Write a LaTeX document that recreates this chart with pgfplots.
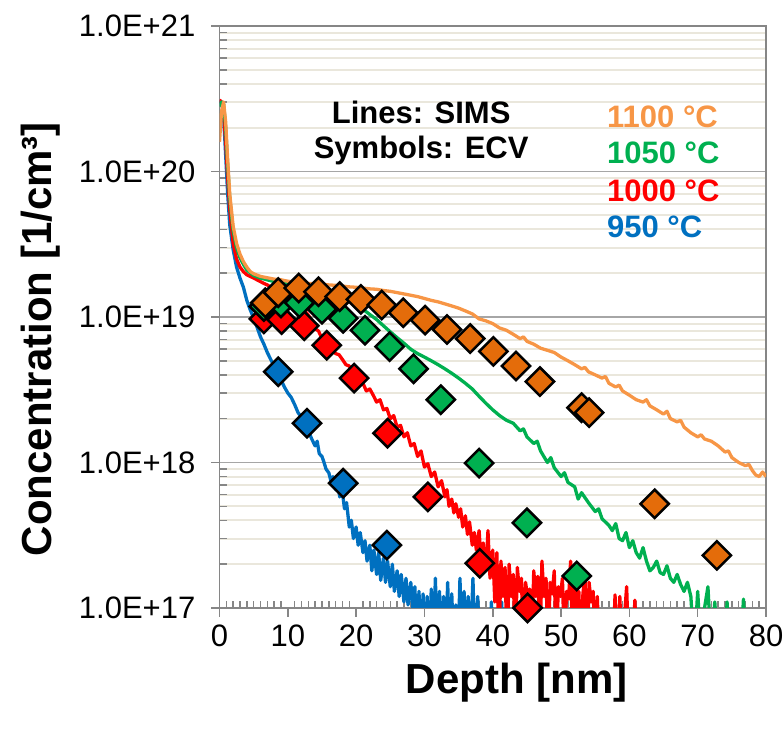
\documentclass[border=0pt]{standalone}
\usepackage{fontspec}
\setmainfont{Liberation Sans}
\usepackage{pgfplots}
\pgfplotsset{compat=1.18}
\definecolor{cOrL}{HTML}{F79646}
\definecolor{cOrM}{HTML}{E46C0A}
\definecolor{cGr}{HTML}{00B050}
\definecolor{cRd}{HTML}{FF0000}
\definecolor{cBl}{HTML}{0070C0}
\definecolor{gridmaj}{HTML}{A6A6A6}
\definecolor{gridmin}{HTML}{EAE7DC}
\definecolor{axgray}{HTML}{868686}
\begin{document}
\begin{tikzpicture}
\useasboundingbox (0,0) rectangle (783pt,738pt);
\begin{axis}[
  at={(219.5pt,130pt)}, anchor=south west,
  width=546.5pt, height=582pt, scale only axis,
  xmin=0, xmax=80, ymin=1e17, ymax=1e21, ymode=log,
  xtick={0,10,...,80}, minor x tick num=9,
  ytick={1e17,1e18,1e19,1e20,1e21},
  yticklabels={1.0E+17,1.0E+18,1.0E+19,1.0E+20,1.0E+21},
  minor ytick={2e17,3e17,4e17,5e17,6e17,7e17,8e17,9e17,
               2e18,3e18,4e18,5e18,6e18,7e18,8e18,9e18,
               2e19,3e19,4e19,5e19,6e19,7e19,8e19,9e19,
               2e20,3e20,4e20,5e20,6e20,7e20,8e20,9e20},
  ymajorgrids, yminorgrids,
  major grid style={gridmaj, line width=1.5pt},
  minor grid style={gridmin, line width=2pt},
  axis line style={axgray, line width=1.5pt},
  tick style={axgray, line width=1.5pt},
  tick align=inside,
  major tick length=-9pt,
  minor tick length=7pt,
  xtick pos=bottom, ytick pos=left,
  /pgf/number format/assume math mode=true,
  tick label style={font=\fontsize{31}{37}\selectfont},
  xticklabel style={anchor=north, inner sep=0pt, yshift=-17pt},
  yticklabel style={anchor=east, inner sep=0pt, xshift=-24pt},
  xlabel={Depth [nm]},
  xlabel style={font=\fontsize{42}{50}\selectfont\bfseries, at={(axis description cs:0.544,-0.147)}, anchor=base},
  ylabel={Concentration [1/cm³]},
  ylabel style={font=\fontsize{42}{50}\selectfont\bfseries, at={(axis description cs:-0.3065,0.462)}, anchor=base},
  clip=true,
]
% ---- SIMS lines ----
\addplot[cBl, line width=3.3pt, line join=round] coordinates {
(0,3.0e20)(0.3,3.0e20)(0.6,2.4e20)(0.9,1.3e20)(1.2,7e19)(1.5,4.3e19)(2.0,2.9e19)(2.5,2.2e19)(3.0,1.85e19)(3.5,1.6e19)
(4,1.3e19)(4.5,1.12e19)(5,9.8e18)(5.5,8.5e18)(6,7.3e18)(6.5,6.5e18)(7,5.7e18)(7.5,5.1e18)(8,4.6e18)(8.5,4.1e18)
(9,3.7e18)(9.5,3.3e18)(10,3.0e18)(10.5,2.8e18)(11,2.5e18)(11.5,2.2e18)(12,2.05e18)(12.5,1.8e18)(13,1.65e18)(13.5,1.45e18)
(14,1.3e18)(14.3,1.4e18)(14.6,1.15e18)(15,1.1e18)(15.3,1.0e18)(15.6,9e17)(16,8.5e17)(16.3,7.5e17)(16.6,8e17)(17,6.5e17)
(17.3,7.2e17)(17.6,5.8e17)(18,6.2e17)(18.3,4.8e17)(18.6,5.3e17)(19,3.6e17)(19.3,4.0e17)(19.6,3.0e17)(20,3.6e17)(20.3,2.7e17)
(20.6,3.3e17)(21,2.4e17)(21.3,2.9e17)(21.6,2.1e17)(22,2.7e17)(22.3,1.8e17)(22.6,2.5e17)(23,1.7e17)(23.3,2.4e17)(23.6,1.55e17)
(24,2.2e17)(24.3,1.5e17)(24.6,2.1e17)(25,1.4e17)(25.3,2.0e17)(25.6,1.3e17)(26,1.8e17)(26.3,1.2e17)(26.6,1.7e17)(27,1.1e17)
(27.3,1.6e17)(27.6,1.05e17)(28,1.5e17)(28.3,1.0e17)(28.6,1.4e17)(28.9,5e16)(29.2,1.3e17)(29.5,5e16)(29.8,1.25e17)(30.1,5e16)
(30.4,1.2e17)(30.7,5e16)(31,1.35e17)(31.3,5e16)(31.6,1.6e17)(31.9,5e16)(32.2,1.3e17)(32.5,5e16)(32.8,1.2e17)(33.1,5e16)
(33.4,1.5e17)(33.7,5e16)(34,1.25e17)(34.3,5e16)(34.6,1.05e17)(34.9,5e16)(35.2,1.6e17)(35.5,5e16)(35.8,1.3e17)(36.1,5e16)
(36.4,1.2e17)(36.7,5e16)(37.1,1.6e17)(37.4,5e16)(37.8,1.2e17)(38.1,5e16)(39.5,5e16)(39.8,1.1e17)(40.1,5e16)(41,5e16)
(41.3,1.1e17)(41.6,5e16)
};
\addplot[cRd, line width=3.3pt, line join=round] coordinates {
(0,3.1e20)(0.3,3.0e20)(0.6,2.6e20)(0.9,1.6e20)(1.2,9e19)(1.5,5.5e19)(2.0,3.2e19)(2.5,2.5e19)(3.0,2.2e19)(3.5,2.05e19)
(4,1.95e19)(4.5,1.9e19)(5,1.85e19)(5.5,1.8e19)(6,1.75e19)(6.5,1.7e19)(7,1.66e19)(8,1.55e19)(9,1.48e19)(10,1.4e19)
(11,1.3e19)(11.5,1.25e19)(12,1.18e19)(12.5,1.1e19)(13,1.03e19)(13.5,9.5e18)(14,8.3e18)(14.5,8.0e18)(15,7.1e18)(15.5,6.9e18)
(16,6.3e18)(16.5,6.0e18)(17,5.6e18)(17.5,5.5e18)(18,5.1e18)(18.5,4.7e18)(19,4.6e18)(19.5,4.1e18)(20,3.9e18)(20.5,3.6e18)
(21,3.5e18)(21.5,3.1e18)(22,3.2e18)(22.5,2.9e18)(23,2.6e18)(23.5,2.7e18)(24,2.3e18)(24.5,2.35e18)(25,2.0e18)(25.5,2.1e18)
(26,1.75e18)(26.5,1.8e18)(27,1.5e18)(27.5,1.6e18)(28,1.3e18)(28.5,1.35e18)(29,1.1e18)(29.5,1.2e18)(30,9.3e17)(30.5,9.8e17)
(31,8.0e17)(31.5,8.6e17)(32,6.8e17)(32.5,7.5e17)(33,5.8e17)(33.3,6.5e17)(33.6,5.0e17)(34,5.6e17)(34.3,4.5e17)(34.6,5.2e17)
(35,4.2e17)(35.3,4.8e17)(35.6,3.6e17)(36,4.3e17)(36.3,3.2e17)(36.6,3.9e17)(37,2.7e17)(37.3,3.3e17)(37.6,2.5e17)(38,3.4e17)
(38.3,2.1e17)(38.6,2.8e17)(39,1.8e17)(39.3,3.4e17)(39.6,1.6e17)(40,2.5e17)(40.3,1.1e17)(40.6,2.4e17)(40.9,5e16)(41.2,2.1e17)
(41.5,1.2e17)(41.8,1.9e17)(42.1,5e16)(42.4,2.0e17)(42.7,1.2e17)(43,1.7e17)(43.3,5e16)(43.6,1.9e17)(43.9,1.3e17)(44.2,1.6e17)
(44.5,5e16)(44.8,1.5e17)(45.1,1.2e17)(45.4,1.35e17)(45.7,5e16)(46,1.8e17)(46.3,1.2e17)(46.6,1.65e17)(46.9,5e16)(47.2,2.1e17)
(47.5,1.2e17)(47.8,1.6e17)(48.1,5e16)(48.4,1.5e17)(48.7,1.25e17)(49,1.8e17)(49.3,5e16)(49.6,1.4e17)(49.9,1.2e17)(50.2,1.6e17)
(50.5,5e16)(50.8,1.3e17)(51.1,1.15e17)(51.4,2.1e17)(51.7,5e16)(52,1.4e17)(52.3,1.0e17)(52.6,1.3e17)(52.9,5e16)(53.2,1.25e17)
(53.5,1.7e17)(53.8,5e16)(54.1,1.5e17)(54.4,1.1e17)(54.7,1.3e17)(55,5e16)(55.3,1.2e17)(55.6,5e16)(57.6,5e16)(57.9,1.23e17)
(58.2,5e16)(58.6,1.2e17)(58.9,5e16)(59.6,1.4e17)(59.9,5e16)(60.5,5e16)(60.8,1.13e17)(61.1,5e16)
};
\addplot[cGr, line width=3.3pt, line join=round] coordinates {
(0,2.8e20)(0.3,3.0e20)(0.6,2.9e20)(0.9,2.0e20)(1.2,1.1e20)(1.5,6.5e19)(2.0,3.9e19)(2.5,3.0e19)(3,2.55e19)(3.5,2.3e19)
(4,2.1e19)(5,1.93e19)(6,1.85e19)(7,1.8e19)(8,1.75e19)(9,1.72e19)(10,1.7e19)(11,1.68e19)(12,1.65e19)(13,1.62e19)
(14,1.6e19)(15,1.57e19)(16,1.53e19)(17,1.48e19)(18,1.4e19)(19,1.32e19)(20,1.23e19)(21,1.13e19)(22,1.04e19)(23,9.6e18)
(24,8.7e18)(25,7.9e18)(26,7.2e18)(27,6.6e18)(28,6.0e18)(29,5.6e18)(30,5.3e18)(31,5.0e18)(32,4.7e18)(33,4.4e18)
(34,4.1e18)(35,3.8e18)(36,3.5e18)(37,3.2e18)(38,2.85e18)(39,2.55e18)(40,2.3e18)(41,2.1e18)(42,1.95e18)(43,1.86e18)
(44,1.65e18)(44.5,1.7e18)(45,1.5e18)(46,1.35e18)(46.5,1.4e18)(47,1.2e18)(48,1.0e18)(48.5,1.08e18)(49,9.2e17)(50,8.0e17)
(50.5,8.5e17)(51,7.3e17)(52,6.8e17)(52.5,5.6e17)(53,6.2e17)(54,5.3e17)(55,4.6e17)(55.5,4.8e17)(56,4.1e17)(57,3.7e17)
(57.5,3.4e17)(58,3.8e17)(58.5,3.0e17)(59,2.9e17)(59.5,3.3e17)(60,2.6e17)(60.5,2.9e17)(61,2.4e17)(61.5,2.2e17)(62,2.6e17)
(62.5,2.1e17)(63,1.8e17)(63.5,1.9e17)(64,2.1e17)(64.5,1.75e17)(65,1.7e17)(65.5,1.95e17)(66,1.6e17)(66.5,1.5e17)(67,1.7e17)
(67.5,1.45e17)(68,1.3e17)(68.5,1.5e17)(69,1.2e17)(69.5,5e16)(70,1.3e17)(70.5,5e16)(71,1.0e17)(71.5,1.4e17)(72,5e16)
(72.5,1.1e17)(73,5e16)(74,5e16)(74.3,1.1e17)(74.6,5e16)(76.3,5e16)(76.7,1.15e17)(77.1,5e16)
};
\addplot[cOrL, line width=3.3pt, line join=round] coordinates {
(0,1.6e20)(0.3,2.6e20)(0.6,3.0e20)(0.9,2.2e20)(1.2,1.2e20)(1.5,7e19)(2.0,4.2e19)(2.5,3.2e19)(3.0,2.7e19)(3.5,2.4e19)
(4,2.2e19)(4.5,2.05e19)(5,1.98e19)(6,1.9e19)(7,1.86e19)(8,1.82e19)(9,1.8e19)(10,1.76e19)(11,1.74e19)(12,1.72e19)
(13,1.70e19)(14,1.69e19)(15,1.68e19)(16,1.66e19)(17,1.65e19)(18,1.63e19)(19,1.61e19)(20,1.6e19)(21,1.58e19)(22,1.56e19)
(23,1.55e19)(24,1.52e19)(25,1.5e19)(26,1.47e19)(27,1.44e19)(28,1.41e19)(29,1.38e19)(30,1.34e19)(31,1.3e19)(32,1.27e19)
(33,1.23e19)(34,1.19e19)(35,1.15e19)(36,1.1e19)(37,1.05e19)(38,9.7e18)(39,9.4e18)(40,9.0e18)(41,8.4e18)(42,8.1e18)
(43,7.6e18)(44,7.1e18)(44.5,7.3e18)(45,6.8e18)(46,6.5e18)(47,6.1e18)(48,5.9e18)(49,5.7e18)(50,5.3e18)(51,5.0e18)
(52,4.7e18)(53,4.4e18)(53.5,4.5e18)(54,4.2e18)(55,4.0e18)(56,3.8e18)(56.5,3.9e18)(57,3.5e18)(58,3.3e18)(58.5,3.4e18)
(59,3.1e18)(60,2.9e18)(61,2.7e18)(62,2.6e18)(62.5,2.7e18)(63,2.45e18)(64,2.3e18)(65,2.15e18)(65.5,2.25e18)(66,2.0e18)
(67,1.9e18)(67.5,1.95e18)(68,1.75e18)(69,1.6e18)(70,1.5e18)(70.5,1.55e18)(71,1.45e18)(72,1.4e18)(73,1.3e18)(74,1.18e18)
(74.5,1.2e18)(75,1.08e18)(76,1.0e18)(77,9.5e17)(77.5,9.7e17)(78,8.8e17)(78.5,8.2e17)(79,8.0e17)(79.5,8.6e17)(80,8.0e17)
};
% ---- ECV symbols ----
\addplot[only marks, mark=square*, mark size=10pt, mark options={rotate=45, fill=cBl, draw=black, line width=2.5pt}] coordinates {
(8.6,4.2e18)(12.8,1.86e18)(18.1,7.2e17)(24.5,2.7e17)
};
\addplot[only marks, mark=square*, mark size=10pt, mark options={rotate=45, fill=cRd, draw=black, line width=2.5pt}] coordinates {
(6.5,9.7e18)(9.1,9.6e18)(12.4,8.7e18)(15.7,6.4e18)(19.7,3.8e18)(24.6,1.59e18)(30.5,5.8e17)(38.1,2.03e17)(45.1,1.0e17)
};
\addplot[only marks, mark=square*, mark size=10pt, mark options={rotate=45, fill=cGr, draw=black, line width=2.5pt}] coordinates {
(6.5,1.18e19)(9.0,1.25e19)(11.7,1.25e19)(15.0,1.13e19)(18.1,9.8e18)(21.3,8.1e18)(24.9,6.25e18)(28.4,4.4e18)(32.4,2.7e18)
(38.0,9.9e17)(45.0,3.85e17)(52.3,1.66e17)
};
\addplot[only marks, mark=square*, mark size=10pt, mark options={rotate=45, fill=cOrM, draw=black, line width=2.5pt}] coordinates {
(6.7,1.25e19)(8.6,1.47e19)(11.6,1.58e19)(14.5,1.49e19)(17.6,1.38e19)(20.7,1.32e19)(23.75,1.21e19)(26.9,1.07e19)(30.1,9.5e18)
(33.3,8.2e18)(36.7,7.1e18)(40.1,5.8e18)(43.4,4.6e18)(46.9,3.6e18)(53.0,2.38e18)(54.1,2.2e18)(63.7,5.2e17)(72.8,2.3e17)
};
% ---- annotations ----
\node[anchor=base, font=\fontsize{31}{37}\selectfont\bfseries] at (rel axis cs:0.369,0.833) {Lines: SIMS};
\node[anchor=base, font=\fontsize{31}{37}\selectfont\bfseries] at (rel axis cs:0.369,0.773) {Symbols: ECV};
\node[anchor=base west, inner sep=0pt, font=\fontsize{31}{37}\selectfont\bfseries, text=cOrL] at (rel axis cs:0.709,0.825) {1100 °C};
\node[anchor=base west, inner sep=0pt, font=\fontsize{31}{37}\selectfont\bfseries, text=cGr] at (rel axis cs:0.709,0.763) {1050 °C};
\node[anchor=base west, inner sep=0pt, font=\fontsize{31}{37}\selectfont\bfseries, text=cRd] at (rel axis cs:0.709,0.699) {1000 °C};
\node[anchor=base west, inner sep=0pt, font=\fontsize{31}{37}\selectfont\bfseries, text=cBl] at (rel axis cs:0.709,0.636) {950 °C};
\end{axis}
\end{tikzpicture}
\end{document}
